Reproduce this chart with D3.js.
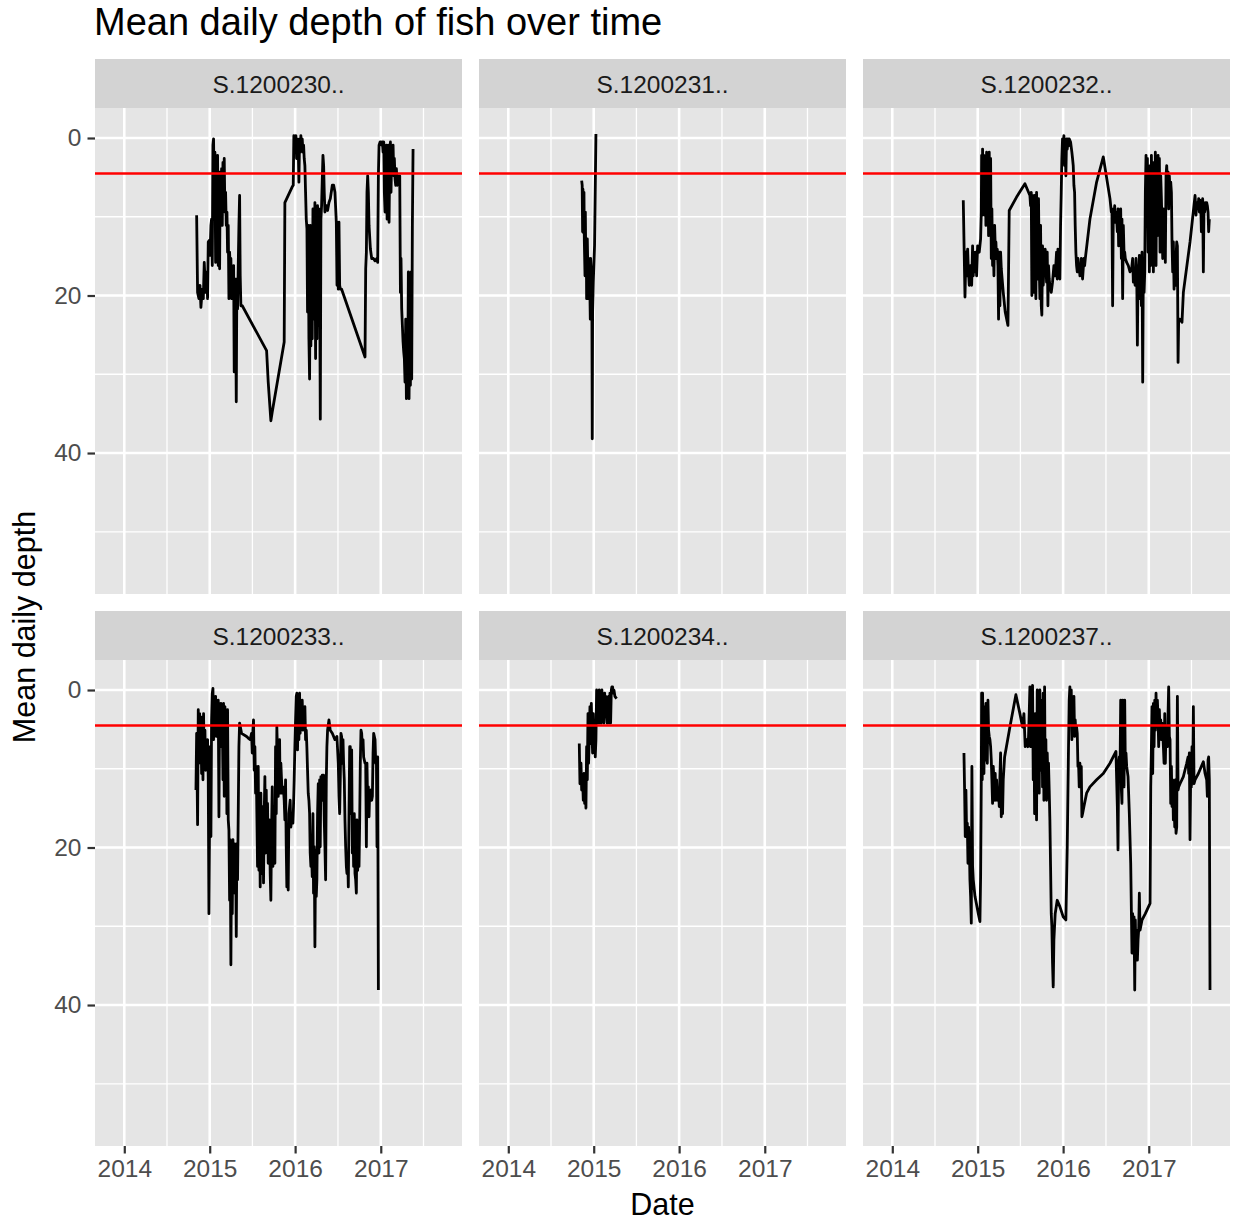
<!DOCTYPE html>
<html>
<head>
<meta charset="utf-8">
<script src="https://cdn.jsdelivr.net/npm/d3@7"></script>
<style>
html,body{margin:0;padding:0;background:#fff;}
svg{display:block;font-family:"Liberation Sans",Arial,Helvetica,sans-serif;}
</style>
</head>
<body>
<svg id="chart" width="1235" height="1226"></svg>
<script>
// ---------------- data (decimal year, mean daily depth) ----------------
const chartTitle = "Mean daily depth of fish over time";
const xTitle = "Date";
const yTitle = "Mean daily depth";
const facetLabels = ["S.1200230..", "S.1200231..", "S.1200232..", "S.1200233..", "S.1200234..", "S.1200237.."];
const thresholdDepth = 4.5;
const yMajorTicks = [0, 20, 40];
const yMinorTicks = [10, 30, 50];
const xTickYears = [2014, 2015, 2016, 2017];
const xLimits = [2013.657, 2017.951];
const yLimits = [-3.81, 57.9];

const s1200230 = [[2014.847,9.8],[2014.858,19.6],[2014.874,20.4],[2014.886,18.7],[2014.897,21.5],[2014.913,19.2],[2014.925,20.4],[2014.936,15.8],[2014.952,19.6],[2014.964,17.0],[2014.975,20.4],[2014.983,13.2],[2014.995,13.0],[2015.003,14.9],[2015.014,11.1],[2015.022,10.3],[2015.030,16.2],[2015.038,0.9],[2015.045,0.1],[2015.053,6.9],[2015.061,1.8],[2015.069,15.8],[2015.077,2.6],[2015.084,11.1],[2015.092,2.2],[2015.100,16.2],[2015.108,6.9],[2015.116,16.6],[2015.123,4.3],[2015.131,9.0],[2015.139,3.9],[2015.147,11.1],[2015.155,3.1],[2015.163,6.9],[2015.170,2.6],[2015.178,9.4],[2015.186,6.9],[2015.194,11.1],[2015.202,9.4],[2015.209,14.5],[2015.217,11.1],[2015.225,20.4],[2015.233,14.5],[2015.241,17.0],[2015.248,15.3],[2015.256,20.4],[2015.264,17.0],[2015.272,19.6],[2015.280,16.2],[2015.287,29.7],[2015.295,17.9],[2015.303,20.4],[2015.311,33.5],[2015.318,17.9],[2015.326,21.7],[2015.334,16.2],[2015.342,11.1],[2015.350,7.3],[2015.357,17.5],[2015.365,21.3],[2015.381,21.3],[2015.666,27.0],[2015.685,31.0],[2015.716,35.9],[2015.732,34.8],[2015.872,25.9],[2015.880,8.2],[2015.966,6.2],[2015.978,6.0],[2015.985,-0.3],[2015.997,0.9],[2016.009,-0.3],[2016.017,2.6],[2016.024,0.1],[2016.036,0.9],[2016.044,5.6],[2016.052,0.1],[2016.060,1.8],[2016.067,-0.3],[2016.075,0.9],[2016.083,0.1],[2016.091,1.8],[2016.099,0.9],[2016.106,2.6],[2016.114,3.5],[2016.122,6.9],[2016.130,10.3],[2016.138,11.5],[2016.145,22.1],[2016.153,11.1],[2016.161,25.5],[2016.169,30.6],[2016.177,11.1],[2016.184,26.4],[2016.192,15.3],[2016.200,25.5],[2016.208,9.0],[2016.216,23.0],[2016.223,15.3],[2016.231,8.2],[2016.239,28.0],[2016.247,10.3],[2016.255,25.5],[2016.262,8.6],[2016.270,23.8],[2016.278,9.0],[2016.286,17.0],[2016.294,35.7],[2016.301,10.3],[2016.309,8.6],[2016.317,5.2],[2016.325,2.2],[2016.333,3.5],[2016.340,6.9],[2016.348,9.4],[2016.364,8.6],[2016.379,9.2],[2016.395,8.2],[2016.411,7.7],[2016.434,6.0],[2016.450,6.0],[2016.465,6.9],[2016.481,10.7],[2016.489,18.7],[2016.496,10.7],[2016.504,19.2],[2016.512,10.7],[2016.520,18.7],[2016.528,19.2],[2016.543,19.2],[2016.816,27.8],[2016.824,16.6],[2016.832,14.5],[2016.839,6.9],[2016.847,4.8],[2016.855,6.9],[2016.863,11.1],[2016.879,14.1],[2016.894,15.3],[2016.914,15.3],[2016.933,15.6],[2016.953,15.3],[2016.964,15.8],[2016.972,4.8],[2016.980,0.9],[2016.992,0.5],[2017.003,0.5],[2017.011,0.9],[2017.019,0.5],[2017.027,1.8],[2017.035,0.5],[2017.042,6.9],[2017.050,9.4],[2017.058,3.5],[2017.066,0.9],[2017.074,10.3],[2017.081,6.0],[2017.089,0.9],[2017.097,10.7],[2017.105,2.6],[2017.113,0.5],[2017.120,6.9],[2017.128,1.8],[2017.136,4.3],[2017.144,0.9],[2017.152,4.8],[2017.159,2.6],[2017.167,5.2],[2017.175,6.0],[2017.183,3.9],[2017.191,6.0],[2017.198,5.2],[2017.206,4.8],[2017.214,5.6],[2017.222,4.8],[2017.230,19.6],[2017.237,15.3],[2017.245,21.7],[2017.253,23.8],[2017.261,25.9],[2017.269,27.2],[2017.276,28.0],[2017.284,31.0],[2017.292,23.0],[2017.300,33.1],[2017.308,24.7],[2017.315,31.4],[2017.323,17.0],[2017.331,33.1],[2017.339,23.0],[2017.347,31.4],[2017.354,17.0],[2017.362,30.6],[2017.370,11.1],[2017.378,1.4]];

const s1200231 = [[2014.859,5.4],[2014.865,6.0],[2014.870,11.9],[2014.874,6.5],[2014.878,12.0],[2014.886,6.9],[2014.890,13.0],[2014.898,17.5],[2014.902,9.4],[2014.909,17.5],[2014.913,12.8],[2014.917,20.4],[2014.925,12.8],[2014.929,15.3],[2014.937,20.4],[2014.941,15.3],[2014.948,20.4],[2014.952,17.0],[2014.960,23.0],[2014.964,15.3],[2014.972,17.0],[2014.979,23.0],[2014.983,38.2],[2014.987,22.1],[2014.995,18.3],[2015.010,13.6],[2015.026,-0.5]];

const s1200232 = [[2014.831,7.9],[2014.843,15.3],[2014.851,20.2],[2014.862,14.5],[2014.870,17.5],[2014.882,14.1],[2014.890,16.6],[2014.901,18.7],[2014.917,16.2],[2014.929,18.7],[2014.940,13.7],[2014.948,17.5],[2014.956,14.5],[2014.968,17.0],[2014.979,14.5],[2014.987,17.5],[2014.999,13.7],[2015.018,14.5],[2015.034,12.8],[2015.042,9.4],[2015.046,2.2],[2015.053,9.8],[2015.057,1.4],[2015.065,6.9],[2015.073,2.2],[2015.081,9.8],[2015.088,2.6],[2015.096,11.1],[2015.104,1.8],[2015.112,9.4],[2015.120,3.5],[2015.127,12.4],[2015.135,1.8],[2015.143,11.1],[2015.151,2.6],[2015.159,15.3],[2015.166,9.0],[2015.174,16.2],[2015.182,13.2],[2015.190,17.5],[2015.198,11.1],[2015.205,13.7],[2015.213,13.2],[2015.221,15.3],[2015.229,14.1],[2015.237,16.2],[2015.244,23.0],[2015.252,14.5],[2015.260,21.3],[2015.268,14.5],[2015.276,16.6],[2015.299,19.6],[2015.322,22.1],[2015.354,23.8],[2015.369,9.2],[2015.455,7.5],[2015.553,5.8],[2015.611,7.3],[2015.619,8.6],[2015.627,6.9],[2015.634,20.0],[2015.642,7.3],[2015.650,11.1],[2015.658,19.6],[2015.666,7.3],[2015.673,16.2],[2015.681,20.4],[2015.689,6.9],[2015.697,14.5],[2015.705,17.9],[2015.712,7.7],[2015.720,16.2],[2015.728,20.4],[2015.736,11.1],[2015.744,21.3],[2015.751,22.5],[2015.759,13.7],[2015.767,18.7],[2015.783,14.5],[2015.790,14.1],[2015.798,15.8],[2015.806,18.3],[2015.814,14.5],[2015.822,21.3],[2015.829,16.2],[2015.837,17.9],[2015.845,18.7],[2015.861,19.6],[2015.876,18.3],[2015.892,16.2],[2015.907,17.5],[2015.923,14.5],[2015.931,17.9],[2015.939,14.1],[2015.954,14.5],[2015.962,17.9],[2015.970,11.1],[2015.978,6.9],[2015.985,2.6],[2015.993,0.1],[2016.001,1.0],[2016.009,-0.3],[2016.017,3.5],[2016.024,0.5],[2016.032,4.8],[2016.040,0.1],[2016.048,1.4],[2016.056,0.1],[2016.063,1.0],[2016.071,0.1],[2016.087,0.5],[2016.102,1.8],[2016.110,2.6],[2016.118,3.5],[2016.126,6.0],[2016.134,6.9],[2016.141,11.1],[2016.149,14.5],[2016.157,16.2],[2016.165,17.0],[2016.173,15.3],[2016.180,17.0],[2016.188,16.2],[2016.196,17.5],[2016.212,15.3],[2016.227,17.9],[2016.243,15.3],[2016.251,16.2],[2016.259,15.3],[2016.313,10.3],[2016.391,5.6],[2016.469,2.4],[2016.547,7.7],[2016.563,9.4],[2016.570,9.0],[2016.578,21.3],[2016.586,9.0],[2016.594,9.8],[2016.602,8.6],[2016.609,10.7],[2016.617,9.4],[2016.625,10.3],[2016.633,11.9],[2016.641,9.0],[2016.648,13.7],[2016.656,9.8],[2016.664,11.1],[2016.672,9.0],[2016.680,15.3],[2016.687,10.3],[2016.695,20.4],[2016.703,11.1],[2016.711,14.5],[2016.719,14.5],[2016.726,15.3],[2016.742,15.8],[2016.761,16.2],[2016.781,17.0],[2016.800,16.6],[2016.812,15.3],[2016.820,18.3],[2016.828,16.6],[2016.840,18.7],[2016.851,15.3],[2016.859,17.0],[2016.867,26.3],[2016.875,16.2],[2016.882,19.6],[2016.890,14.9],[2016.898,20.4],[2016.906,15.3],[2016.914,21.3],[2016.921,14.5],[2016.929,31.0],[2016.937,15.3],[2016.945,19.6],[2016.953,17.0],[2016.960,6.9],[2016.968,2.2],[2016.976,11.1],[2016.984,2.6],[2016.992,14.5],[2016.999,6.9],[2017.007,17.0],[2017.015,3.5],[2017.023,16.2],[2017.031,2.2],[2017.038,13.2],[2017.046,3.1],[2017.054,17.0],[2017.062,6.9],[2017.070,11.1],[2017.077,1.8],[2017.085,16.2],[2017.093,2.6],[2017.101,12.4],[2017.109,2.2],[2017.116,6.9],[2017.124,2.6],[2017.132,14.5],[2017.140,4.8],[2017.148,7.7],[2017.155,11.1],[2017.163,15.3],[2017.171,9.0],[2017.179,12.4],[2017.187,11.1],[2017.194,15.8],[2017.202,4.8],[2017.210,3.5],[2017.218,5.6],[2017.226,4.3],[2017.233,9.0],[2017.241,4.8],[2017.249,6.9],[2017.257,5.6],[2017.265,6.9],[2017.272,13.2],[2017.280,17.0],[2017.288,13.2],[2017.296,19.2],[2017.304,15.3],[2017.311,18.7],[2017.319,15.3],[2017.327,13.2],[2017.335,13.7],[2017.343,28.5],[2017.350,23.0],[2017.366,23.0],[2017.389,23.4],[2017.405,19.6],[2017.483,13.2],[2017.542,7.3],[2017.553,9.8],[2017.561,8.2],[2017.569,8.6],[2017.577,9.0],[2017.584,7.7],[2017.592,9.4],[2017.600,7.9],[2017.608,8.2],[2017.616,11.9],[2017.623,9.4],[2017.631,7.7],[2017.639,17.0],[2017.647,8.2],[2017.655,9.4],[2017.662,8.2],[2017.670,9.0],[2017.678,8.2],[2017.686,8.6],[2017.694,9.4],[2017.701,11.9],[2017.709,10.3]];

const s1200233 = [[2014.839,12.7],[2014.847,5.5],[2014.858,17.1],[2014.866,2.5],[2014.874,9.3],[2014.882,3.0],[2014.889,7.2],[2014.897,3.8],[2014.905,10.6],[2014.913,3.4],[2014.921,11.4],[2014.928,3.0],[2014.936,9.7],[2014.944,5.1],[2014.952,10.2],[2014.960,6.3],[2014.967,8.0],[2014.975,6.3],[2014.983,11.4],[2014.991,28.4],[2014.999,15.7],[2015.006,7.2],[2015.014,18.6],[2015.022,3.8],[2015.030,0.4],[2015.038,-0.2],[2015.045,6.3],[2015.053,1.3],[2015.061,4.7],[2015.069,0.8],[2015.077,5.9],[2015.084,2.5],[2015.092,4.2],[2015.100,1.3],[2015.108,16.1],[2015.116,1.7],[2015.123,7.2],[2015.131,1.7],[2015.139,7.2],[2015.147,2.5],[2015.155,11.4],[2015.162,1.7],[2015.170,13.5],[2015.178,2.1],[2015.186,12.7],[2015.194,2.5],[2015.201,15.7],[2015.209,2.5],[2015.217,16.5],[2015.225,17.8],[2015.233,26.7],[2015.240,19.0],[2015.248,34.9],[2015.256,19.5],[2015.264,28.4],[2015.272,19.0],[2015.279,24.1],[2015.287,19.5],[2015.295,25.8],[2015.303,19.9],[2015.311,31.3],[2015.318,19.5],[2015.326,24.1],[2015.334,15.7],[2015.342,7.2],[2015.350,4.2],[2015.373,5.5],[2015.432,5.9],[2015.451,6.1],[2015.474,6.3],[2015.490,5.5],[2015.498,8.0],[2015.506,5.1],[2015.513,3.8],[2015.521,10.2],[2015.529,7.2],[2015.537,13.1],[2015.545,9.7],[2015.552,15.7],[2015.560,22.4],[2015.568,9.7],[2015.576,22.9],[2015.584,14.8],[2015.591,25.0],[2015.599,13.1],[2015.607,23.3],[2015.615,16.9],[2015.623,14.8],[2015.630,24.5],[2015.638,15.7],[2015.646,11.0],[2015.654,20.7],[2015.662,12.7],[2015.669,19.9],[2015.677,14.4],[2015.685,22.0],[2015.693,18.2],[2015.701,16.5],[2015.708,23.3],[2015.716,26.7],[2015.724,17.8],[2015.732,12.3],[2015.740,22.4],[2015.747,14.8],[2015.755,17.8],[2015.763,22.0],[2015.771,7.2],[2015.779,15.7],[2015.786,4.7],[2015.794,8.0],[2015.802,13.5],[2015.810,11.4],[2015.818,6.3],[2015.825,13.1],[2015.833,9.3],[2015.841,11.4],[2015.849,13.1],[2015.857,12.3],[2015.864,12.7],[2015.872,14.0],[2015.880,16.5],[2015.888,11.4],[2015.896,19.9],[2015.903,25.0],[2015.911,19.9],[2015.919,25.4],[2015.927,15.7],[2015.935,14.8],[2015.942,14.0],[2015.950,17.4],[2015.958,16.5],[2015.966,15.7],[2015.974,16.9],[2015.981,14.8],[2015.989,11.4],[2015.997,7.2],[2016.005,3.8],[2016.013,0.8],[2016.020,0.4],[2016.028,7.6],[2016.036,2.1],[2016.044,6.3],[2016.052,0.4],[2016.059,5.5],[2016.067,2.1],[2016.075,3.8],[2016.083,1.3],[2016.091,5.1],[2016.098,2.5],[2016.106,4.2],[2016.114,2.1],[2016.122,6.3],[2016.130,5.1],[2016.137,7.2],[2016.145,10.2],[2016.153,13.1],[2016.161,14.0],[2016.169,15.7],[2016.176,20.7],[2016.184,22.4],[2016.192,20.7],[2016.200,23.7],[2016.208,15.7],[2016.215,25.8],[2016.223,19.9],[2016.231,32.6],[2016.239,20.3],[2016.247,26.2],[2016.254,24.1],[2016.262,15.7],[2016.270,11.9],[2016.278,20.7],[2016.286,11.4],[2016.293,19.9],[2016.301,11.0],[2016.309,14.0],[2016.317,10.8],[2016.325,14.0],[2016.332,10.8],[2016.340,16.5],[2016.348,19.9],[2016.356,24.1],[2016.364,11.4],[2016.371,7.2],[2016.379,5.1],[2016.395,3.8],[2016.410,5.1],[2016.434,5.5],[2016.465,6.3],[2016.488,5.9],[2016.504,9.3],[2016.512,13.5],[2016.520,15.7],[2016.527,11.4],[2016.535,5.5],[2016.543,5.9],[2016.551,9.3],[2016.559,6.3],[2016.566,9.3],[2016.574,11.4],[2016.582,16.5],[2016.590,19.9],[2016.598,22.4],[2016.605,23.3],[2016.613,20.7],[2016.621,25.0],[2016.629,15.7],[2016.637,7.2],[2016.644,7.2],[2016.652,15.7],[2016.660,7.6],[2016.668,20.7],[2016.676,16.5],[2016.683,22.4],[2016.691,15.7],[2016.699,23.3],[2016.707,24.1],[2016.715,25.8],[2016.722,16.5],[2016.730,22.9],[2016.738,20.7],[2016.746,22.4],[2016.754,16.5],[2016.761,9.3],[2016.769,5.1],[2016.777,5.5],[2016.785,7.2],[2016.793,6.3],[2016.800,8.5],[2016.808,8.9],[2016.816,9.3],[2016.824,9.3],[2016.832,19.9],[2016.839,9.3],[2016.847,14.8],[2016.855,12.3],[2016.863,16.1],[2016.871,12.7],[2016.878,13.5],[2016.886,12.7],[2016.894,14.0],[2016.902,13.5],[2016.910,8.0],[2016.917,5.5],[2016.925,5.9],[2016.933,6.3],[2016.941,9.3],[2016.949,8.5],[2016.956,19.9],[2016.964,8.5],[2016.972,38.1]];

const s1200234 = [[2014.831,6.8],[2014.839,11.9],[2014.851,9.3],[2014.859,12.7],[2014.870,11.4],[2014.878,14.0],[2014.886,10.6],[2014.894,14.4],[2014.901,11.4],[2014.909,15.0],[2014.917,7.2],[2014.925,11.4],[2014.933,3.0],[2014.940,9.3],[2014.948,5.9],[2014.956,2.1],[2014.964,6.8],[2014.972,1.7],[2014.979,5.1],[2014.987,8.0],[2014.995,3.0],[2015.003,7.2],[2015.011,5.1],[2015.018,8.5],[2015.026,6.3],[2015.034,0.0],[2015.042,3.8],[2015.050,0.4],[2015.057,4.2],[2015.065,0.0],[2015.073,4.2],[2015.081,0.4],[2015.089,4.2],[2015.096,0.0],[2015.104,3.8],[2015.112,0.8],[2015.120,4.2],[2015.128,0.4],[2015.135,2.1],[2015.143,0.8],[2015.151,3.0],[2015.159,4.2],[2015.167,1.3],[2015.174,0.8],[2015.182,4.2],[2015.190,0.4],[2015.198,4.2],[2015.206,0.0],[2015.213,-0.4],[2015.221,-0.4],[2015.229,0.4],[2015.237,0.0],[2015.248,0.8],[2015.268,1.1]];

const s1200237 = [[2014.839,8.0],[2014.847,13.1],[2014.854,18.6],[2014.862,12.7],[2014.870,18.2],[2014.878,16.9],[2014.886,22.0],[2014.893,17.4],[2014.901,19.0],[2014.909,24.1],[2014.917,26.2],[2014.925,29.6],[2014.932,9.7],[2014.940,22.4],[2014.948,24.1],[2014.968,26.2],[2015.007,28.4],[2015.026,29.4],[2015.034,23.7],[2015.042,11.4],[2015.046,0.4],[2015.053,11.4],[2015.057,0.4],[2015.065,8.0],[2015.073,10.6],[2015.081,2.1],[2015.088,8.9],[2015.096,1.7],[2015.104,7.2],[2015.112,9.3],[2015.120,1.3],[2015.127,5.1],[2015.135,5.9],[2015.143,6.3],[2015.151,7.2],[2015.159,8.9],[2015.166,11.4],[2015.174,14.4],[2015.182,9.7],[2015.190,11.4],[2015.198,14.0],[2015.205,10.6],[2015.213,14.0],[2015.221,11.4],[2015.229,13.5],[2015.237,14.0],[2015.244,12.7],[2015.252,14.8],[2015.260,11.0],[2015.268,8.0],[2015.276,16.1],[2015.283,13.5],[2015.291,15.7],[2015.299,11.4],[2015.315,8.5],[2015.377,4.7],[2015.447,0.6],[2015.494,3.0],[2015.525,4.7],[2015.541,3.0],[2015.556,7.2],[2015.572,6.3],[2015.588,7.2],[2015.595,5.9],[2015.603,3.0],[2015.611,-0.4],[2015.619,7.2],[2015.627,0.4],[2015.634,1.3],[2015.642,-0.6],[2015.650,11.4],[2015.658,3.8],[2015.666,15.7],[2015.673,3.0],[2015.681,10.2],[2015.689,16.5],[2015.697,0.0],[2015.705,11.4],[2015.712,3.0],[2015.720,13.1],[2015.728,0.0],[2015.736,10.2],[2015.744,4.7],[2015.751,1.3],[2015.759,12.3],[2015.767,0.4],[2015.775,14.0],[2015.783,-0.4],[2015.790,11.4],[2015.798,6.3],[2015.806,14.0],[2015.814,8.0],[2015.822,11.4],[2015.829,9.3],[2015.837,12.7],[2015.845,16.5],[2015.853,22.4],[2015.861,28.4],[2015.868,30.0],[2015.876,34.7],[2015.884,37.7],[2015.892,31.7],[2015.907,28.4],[2015.931,26.7],[2015.962,27.5],[2016.001,28.8],[2016.032,29.2],[2016.048,19.9],[2016.063,7.2],[2016.071,1.3],[2016.079,-0.4],[2016.087,3.0],[2016.095,0.0],[2016.102,6.3],[2016.110,1.3],[2016.118,5.1],[2016.126,0.8],[2016.134,5.9],[2016.141,3.8],[2016.149,5.5],[2016.157,4.7],[2016.165,5.5],[2016.173,9.7],[2016.180,9.3],[2016.188,12.3],[2016.196,9.3],[2016.204,11.4],[2016.212,9.7],[2016.219,16.1],[2016.227,15.7],[2016.243,14.8],[2016.274,13.1],[2016.313,12.3],[2016.391,11.4],[2016.469,10.6],[2016.547,9.3],[2016.617,7.8],[2016.625,11.4],[2016.633,14.8],[2016.641,20.3],[2016.648,9.3],[2016.656,8.5],[2016.664,11.4],[2016.672,1.3],[2016.680,12.7],[2016.687,14.4],[2016.695,1.3],[2016.703,8.9],[2016.711,12.3],[2016.719,1.3],[2016.726,9.3],[2016.734,8.0],[2016.742,9.7],[2016.758,11.0],[2016.773,15.7],[2016.789,22.0],[2016.804,33.4],[2016.812,28.4],[2016.820,33.4],[2016.828,28.8],[2016.836,38.1],[2016.843,29.2],[2016.851,33.8],[2016.859,30.5],[2016.867,34.3],[2016.875,31.7],[2016.882,30.5],[2016.890,25.8],[2016.898,30.5],[2016.921,29.2],[2016.960,28.4],[2017.015,27.1],[2017.023,12.3],[2017.031,7.2],[2017.038,2.1],[2017.046,10.6],[2017.054,1.7],[2017.062,7.2],[2017.070,1.3],[2017.077,5.1],[2017.085,0.4],[2017.093,4.7],[2017.101,1.3],[2017.109,3.8],[2017.116,7.2],[2017.124,2.5],[2017.132,5.5],[2017.140,3.8],[2017.148,6.3],[2017.155,4.2],[2017.163,5.1],[2017.171,7.2],[2017.179,9.3],[2017.187,3.0],[2017.194,9.3],[2017.202,4.7],[2017.210,6.3],[2017.218,7.2],[2017.226,3.0],[2017.233,-0.4],[2017.241,5.9],[2017.249,6.3],[2017.257,14.4],[2017.265,9.7],[2017.272,14.8],[2017.280,11.4],[2017.288,16.5],[2017.296,14.0],[2017.304,17.4],[2017.311,11.4],[2017.319,18.2],[2017.327,17.4],[2017.335,0.8],[2017.343,12.7],[2017.350,12.3],[2017.366,11.9],[2017.405,11.0],[2017.444,9.3],[2017.460,8.5],[2017.467,10.6],[2017.475,8.0],[2017.483,19.0],[2017.491,10.6],[2017.499,12.3],[2017.506,7.2],[2017.514,11.4],[2017.522,2.1],[2017.530,11.9],[2017.542,11.4],[2017.581,10.6],[2017.639,9.1],[2017.659,10.6],[2017.678,11.4],[2017.686,13.5],[2017.694,8.9],[2017.701,8.5],[2017.709,11.4],[2017.717,38.1]];

const seriesList = [s1200230, s1200231, s1200232, s1200233, s1200234, s1200237];

// ---------------- layout ----------------
const W = 1235, H = 1226;
const colX = [95, 479, 863];
const panelW = 367;
const stripTop = [59, 611];
const stripH = 49;
const panelH = 486;

function yd(v) {
  const y = Math.floor(v);
  const a = Date.UTC(y, 0, 1), b = Date.UTC(y + 1, 0, 1);
  return new Date(a + (v - y) * (b - a));
}

const svg = d3.select("#chart");
svg.append("rect").attr("width", W).attr("height", H).attr("fill", "#ffffff");

const x = d3.scaleUtc().domain(xLimits.map(yd)).range([0, panelW]);
const y = d3.scaleLinear().domain(yLimits).range([0, panelH]);

const xMajor = xTickYears.map(v => new Date(Date.UTC(v, 0, 1)));
const xMinor = [];
for (let i = 0; i < xMajor.length; i++) {
  const a = xMajor[i], b = i + 1 < xMajor.length ? xMajor[i + 1] : new Date(Date.UTC(xTickYears[i] + 1, 0, 1));
  const m = new Date((+a + +b) / 2);
  if (x(m) >= 0 && x(m) <= panelW) xMinor.push(m);
}

const FONT = '"Liberation Sans", Arial, Helvetica, sans-serif';

// title
svg.append("text").attr("x", 94).attr("y", 35)
  .attr("font-size", 38).attr("fill", "#000").attr("font-family", FONT)
  .text(chartTitle);

const line = d3.line().x(d => x(yd(d[0]))).y(d => y(d[1]));

facetLabels.forEach((lab, i) => {
  const r = Math.floor(i / 3), c = i % 3;
  const px = colX[c], sy = stripTop[r], py = sy + stripH;
  const g = svg.append("g").attr("transform", `translate(${px},${py})`);

  // strip
  svg.append("rect").attr("x", px).attr("y", sy).attr("width", panelW).attr("height", stripH).attr("fill", "#D3D3D3");
  svg.append("text").attr("x", px + panelW / 2).attr("y", sy + 34)
    .attr("text-anchor", "middle").attr("font-size", 24.5).attr("fill", "#1A1A1A").attr("font-family", FONT)
    .text(lab);

  // panel bg
  g.append("rect").attr("width", panelW).attr("height", panelH).attr("fill", "#E5E5E5");

  // minor grid
  g.selectAll(".ymin").data(yMinorTicks).enter().append("line")
    .attr("x1", 0).attr("x2", panelW).attr("y1", d => y(d)).attr("y2", d => y(d))
    .attr("stroke", "#fff").attr("stroke-width", 1.3);
  g.selectAll(".xmin").data(xMinor).enter().append("line")
    .attr("y1", 0).attr("y2", panelH).attr("x1", d => x(d)).attr("x2", d => x(d))
    .attr("stroke", "#fff").attr("stroke-width", 1.3);
  // major grid
  g.selectAll(".ymaj").data(yMajorTicks).enter().append("line")
    .attr("x1", 0).attr("x2", panelW).attr("y1", d => y(d)).attr("y2", d => y(d))
    .attr("stroke", "#fff").attr("stroke-width", 2.6);
  g.selectAll(".xmaj").data(xMajor).enter().append("line")
    .attr("y1", 0).attr("y2", panelH).attr("x1", d => x(d)).attr("x2", d => x(d))
    .attr("stroke", "#fff").attr("stroke-width", 2.6);

  // clip
  const cid = "clip" + i;
  g.append("clipPath").attr("id", cid).append("rect").attr("width", panelW).attr("height", panelH);

  // data line
  g.append("path").datum(seriesList[i]).attr("d", line)
    .attr("fill", "none").attr("stroke", "#000").attr("stroke-width", 2.8)
    .attr("stroke-linejoin", "round").attr("clip-path", `url(#${cid})`);

  // threshold
  g.append("line").attr("x1", 0).attr("x2", panelW)
    .attr("y1", y(thresholdDepth)).attr("y2", y(thresholdDepth))
    .attr("stroke", "#FF0000").attr("stroke-width", 2.6);

  // y axis (left column)
  if (c === 0) {
    const ya = d3.axisLeft(y).tickValues(yMajorTicks).tickSize(7.5).tickPadding(6).tickFormat(d3.format("d"));
    const ag = g.append("g").call(ya);
    ag.select(".domain").remove();
    ag.selectAll(".tick line").attr("stroke", "#333333").attr("stroke-width", 2.2);
    ag.selectAll(".tick text").attr("fill", "#4D4D4D").attr("font-size", 24.5).attr("font-family", FONT);
  }
  // x axis (bottom row)
  if (r === 1) {
    const xa = d3.axisBottom(x).tickValues(xMajor).tickSize(7.5).tickPadding(6).tickFormat(d3.utcFormat("%Y"));
    const ag = g.append("g").attr("transform", `translate(0,${panelH})`).call(xa);
    ag.select(".domain").remove();
    ag.selectAll(".tick line").attr("stroke", "#333333").attr("stroke-width", 2.2);
    ag.selectAll(".tick text").attr("fill", "#4D4D4D").attr("font-size", 24.5).attr("font-family", FONT);
  }
});

// axis titles
svg.append("text").attr("x", 662.5).attr("y", 1215).attr("text-anchor", "middle")
  .attr("font-size", 30.5).attr("fill", "#000").attr("font-family", FONT).text(xTitle);
svg.append("text").attr("transform", "translate(35,627) rotate(-90)").attr("text-anchor", "middle")
  .attr("font-size", 30.5).attr("fill", "#000").attr("font-family", FONT).text(yTitle);
</script>
</body>
</html>
